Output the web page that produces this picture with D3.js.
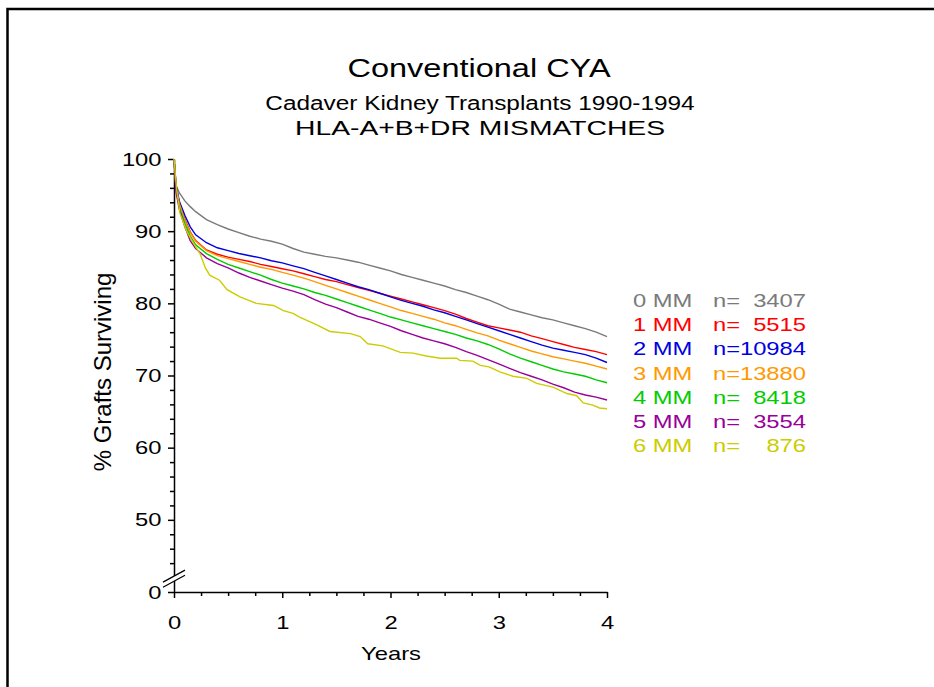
<!DOCTYPE html>
<html>
<head>
<meta charset="utf-8">
<script src="https://cdn.jsdelivr.net/npm/d3@7"></script>
<style>
body { margin: 0; background: #fff; overflow: hidden; }
svg { display: block; }
svg text { font-family: "Liberation Sans", Arial, sans-serif; fill: #000; }
</style>
</head>
<body>
<div class="canvas"></div>
<script>
// years after transplant, shared by the 0-5 MM curves
const years = [0, 0.02, 0.05, 0.1, 0.15, 0.2, 0.3, 0.4, 0.5, 0.6, 0.7, 0.8, 0.9, 1.0,
    1.1, 1.2, 1.3, 1.4, 1.5, 1.6, 1.7, 1.8, 1.9, 2.0, 2.1, 2.2, 2.3, 2.4, 2.5, 2.6, 2.7,
    2.8, 2.9, 3.0, 3.1, 3.2, 3.3, 3.4, 3.5, 3.6, 3.7, 3.8, 3.9, 4.0];

const mm0 = [100, 96.3, 95.3, 94.2, 93.4, 92.7, 91.6, 90.9, 90.3, 89.8, 89.3, 88.9, 88.6, 88.2,
    87.6, 87.1, 86.8, 86.5, 86.3, 86.0, 85.7, 85.3, 84.9, 84.5, 84.0, 83.6, 83.2, 82.8, 82.4,
    81.9, 81.5, 81.0, 80.5, 79.9, 79.2, 78.8, 78.4, 78.0, 77.7, 77.3, 76.9, 76.5, 76.0, 75.4];
const mm1 = [100, 96.0, 93.9, 91.7, 89.9, 88.7, 87.4, 86.8, 86.4, 86.1, 85.8, 85.4, 85.1, 84.8,
    84.5, 84.1, 83.7, 83.3, 83.0, 82.6, 82.2, 81.8, 81.4, 81.0, 80.6, 80.2, 79.8, 79.4, 79.0,
    78.5, 77.9, 77.4, 76.9, 76.6, 76.3, 76.0, 75.5, 75.1, 74.7, 74.3, 73.9, 73.6, 73.3, 72.9];
const mm2 = [100, 96.3, 94.1, 92.2, 90.6, 89.5, 88.4, 87.7, 87.3, 86.9, 86.6, 86.3, 85.9, 85.6,
    85.2, 84.8, 84.3, 83.8, 83.3, 82.8, 82.3, 81.9, 81.4, 80.9, 80.4, 80.0, 79.6, 79.1, 78.7,
    78.2, 77.7, 77.2, 76.7, 76.2, 75.7, 75.2, 74.7, 74.2, 73.8, 73.5, 73.2, 72.9, 72.4, 71.8];
const mm3 = [100, 95.9, 93.8, 91.5, 89.8, 88.6, 87.3, 86.6, 86.2, 85.8, 85.4, 85.0, 84.7, 84.3,
    83.9, 83.5, 83.0, 82.5, 82.0, 81.5, 81.0, 80.5, 80.0, 79.5, 79.0, 78.6, 78.2, 77.8, 77.3,
    76.9, 76.4, 75.9, 75.5, 74.9, 74.4, 73.9, 73.4, 73.0, 72.6, 72.3, 72.0, 71.7, 71.3, 70.9];
const mm4 = [100, 95.7, 93.3, 91.1, 89.3, 88.1, 86.9, 86.1, 85.4, 84.9, 84.4, 83.9, 83.3, 82.8,
    82.4, 82.0, 81.5, 81.1, 80.6, 80.1, 79.6, 79.1, 78.6, 78.1, 77.7, 77.3, 76.9, 76.5, 76.1,
    75.7, 75.2, 74.8, 74.3, 73.7, 73.0, 72.4, 71.9, 71.4, 70.9, 70.5, 70.2, 69.9, 69.4, 69.0];
const mm5 = [100, 95.3, 93.0, 90.6, 88.7, 87.6, 86.3, 85.5, 84.9, 84.2, 83.6, 83.1, 82.6, 82.1,
    81.7, 81.2, 80.5, 79.9, 79.4, 78.8, 78.2, 77.8, 77.3, 76.8, 76.2, 75.7, 75.2, 74.8, 74.4,
    73.9, 73.3, 72.8, 72.2, 71.6, 71.0, 70.4, 69.9, 69.4, 68.8, 68.3, 67.7, 67.3, 67.0, 66.6];

// 6 MM is a small group, its curve steps more so it gets its own time points
const years6MM = [0, 0.025, 0.055, 0.12, 0.18, 0.24, 0.29, 0.33, 0.42, 0.49, 0.61, 0.76, 0.92,
    1.01, 1.10, 1.16, 1.32, 1.44, 1.63, 1.72, 1.79, 1.93, 2.09, 2.21, 2.33, 2.46, 2.61, 2.64,
    2.76, 2.83, 2.91, 3.01, 3.13, 3.26, 3.35, 3.50, 3.63, 3.72, 3.78, 3.87, 3.93, 4.0];
const mm6 = [100, 95.7, 92.5, 89.9, 88.3, 86.9, 84.9, 83.9, 83.2, 81.9, 80.9, 80.0, 79.7,
    79.0, 78.6, 78.1, 77.0, 76.1, 75.8, 75.4, 74.4, 74.1, 73.2, 73.1, 72.7, 72.4, 72.4, 72.1,
    72.0, 71.4, 71.2, 70.5, 69.9, 69.6, 68.9, 68.4, 67.5, 67.2, 66.2, 65.9, 65.5, 65.4];

const mmLabels = ['0 MM', '1 MM', '2 MM', '3 MM', '4 MM', '5 MM', '6 MM'];
const nCounts = [3407, 5515, 10984, 13880, 8418, 3554, 876];
const mmColors = ['#7a7a7a', '#ff0000', '#0000e0', '#ff9900', '#00cc00', '#990099', '#cccc00'];

const yTicks = [40, 50, 60, 70, 80, 90, 100];   // 40 sits at the break, labelled 0
const xTicks = [0, 1, 2, 3, 4];

const series = [
    { t: years, v: mm0 }, { t: years, v: mm1 }, { t: years, v: mm2 }, { t: years, v: mm3 },
    { t: years, v: mm4 }, { t: years, v: mm5 }, { t: years6MM, v: mm6 }
];

let width = 934, height = 687;
let plotL = 174, plotR = 607, plotT = 159, plotB = 592;
const sx = 1.25; // the original lettering is stretched sideways

const svg = d3.select('.canvas')
    .append('svg')
    .attr('width', width)
    .attr('height', height);

// frame
svg.append('rect')
    .attr('x', 7.5).attr('y', 9)
    .attr('width', 1000).attr('height', 1000)
    .attr('fill', 'none')
    .attr('stroke', '#000')
    .attr('stroke-width', 2.5);

let label = (x, y, txt, size, anchor, color, stretch = sx) => {
    return svg.append('text')
        .attr('transform', `translate(${x},${y}) scale(${stretch},1)`)
        .attr('font-size', size)
        .attr('text-anchor', anchor)
        .style('fill', color || '#000')
        .text(txt);
};

label(479, 77, 'Conventional CYA', 26, 'middle');
label(480, 110, 'Cadaver Kidney Transplants 1990-1994', 19.5, 'middle');
label(480, 135, 'HLA-A+B+DR MISMATCHES', 19.5, 'middle', '#000', 1.45);

const xScale = d3.scaleLinear().domain([0, 4]).range([plotL, plotR]);
const yScale = d3.scaleLinear().domain([40, 100]).range([plotB, plotT]);

// minor ticks first
svg.append('g')
    .attr('transform', `translate(${plotL},0)`)
    .call(d3.axisLeft(yScale).tickValues(d3.range(44, 100, 2).filter(d => d % 10)).tickSize(4).tickFormat(''))
    .call(g => g.select('.domain').remove());
svg.append('g')
    .attr('transform', `translate(0,${plotB})`)
    .call(d3.axisBottom(xScale).tickValues(d3.range(0.25, 4, 0.25).filter(d => d % 1)).tickSize(4).tickFormat(''))
    .call(g => g.select('.domain').remove());

const yAxis = d3.axisLeft(yScale).tickValues(yTicks).tickSize(6).tickSizeOuter(0).tickPadding(4)
    .tickFormat(d => d === 40 ? '0' : d);
const xAxis = d3.axisBottom(xScale).tickValues(xTicks).tickSize(6).tickSizeOuter(0).tickPadding(18)
    .tickFormat(d3.format('d'));

svg.append('g')
    .attr('id', 'y-axis')
    .attr('transform', `translate(${plotL},0)`)
    .call(yAxis)
    .call(g => g.selectAll('text').attr('font-size', 19).attr('transform', `scale(${sx},1)`));

svg.append('g')
    .attr('id', 'x-axis')
    .attr('transform', `translate(0,${plotB})`)
    .call(xAxis)
    .call(g => g.selectAll('text').attr('font-size', 19).attr('transform', `scale(${sx},1)`));

svg.selectAll('.domain, .tick line').attr('stroke', '#000').attr('stroke-width', 1.5);

// axis break marks
let yb1 = yScale(42.2), yb2 = yScale(41.5);
svg.append('path')
    .attr('d', `M${plotL - 11},${yb1 + 6} L${plotL + 11},${yb1 - 6} L${plotL + 11},${yb2 - 6} L${plotL - 11},${yb2 + 6} Z`)
    .attr('fill', '#fff');
[yb1, yb2].forEach(yb => {
    svg.append('line')
        .attr('x1', plotL - 11).attr('y1', yb + 6)
        .attr('x2', plotL + 11).attr('y2', yb - 6)
        .attr('stroke', '#000').attr('stroke-width', 1.2);
});

label(391, 660, 'Years', 19, 'middle');
svg.append('text')
    .attr('transform', `translate(111,372) rotate(-90)`)
    .attr('font-size', 24)
    .attr('text-anchor', 'middle')
    .text('% Grafts Surviving');

// survival curves
const line = d3.line()
    .x(d => xScale(d[0]))
    .y(d => yScale(d[1]));

svg.selectAll('.curve')
    .data(series)
    .enter()
    .append('path')
    .attr('class', 'curve')
    .attr('fill', 'none')
    .attr('stroke', (d, i) => mmColors[i])
    .attr('stroke-width', 1.4)
    .attr('d', d => line(d.t.map((t, i) => [t, d.v[i]])));

// legend
const rowY = d3.scaleLinear().domain([0, 6]).range([307, 452]);
mmLabels.forEach((m, i) => {
    label(633, rowY(i), m, 19, 'start', mmColors[i]);
    label(713, rowY(i), 'n=', 19, 'start', mmColors[i]);
    label(806, rowY(i), nCounts[i], 19, 'end', mmColors[i]);
});
</script>
</body>
</html>
